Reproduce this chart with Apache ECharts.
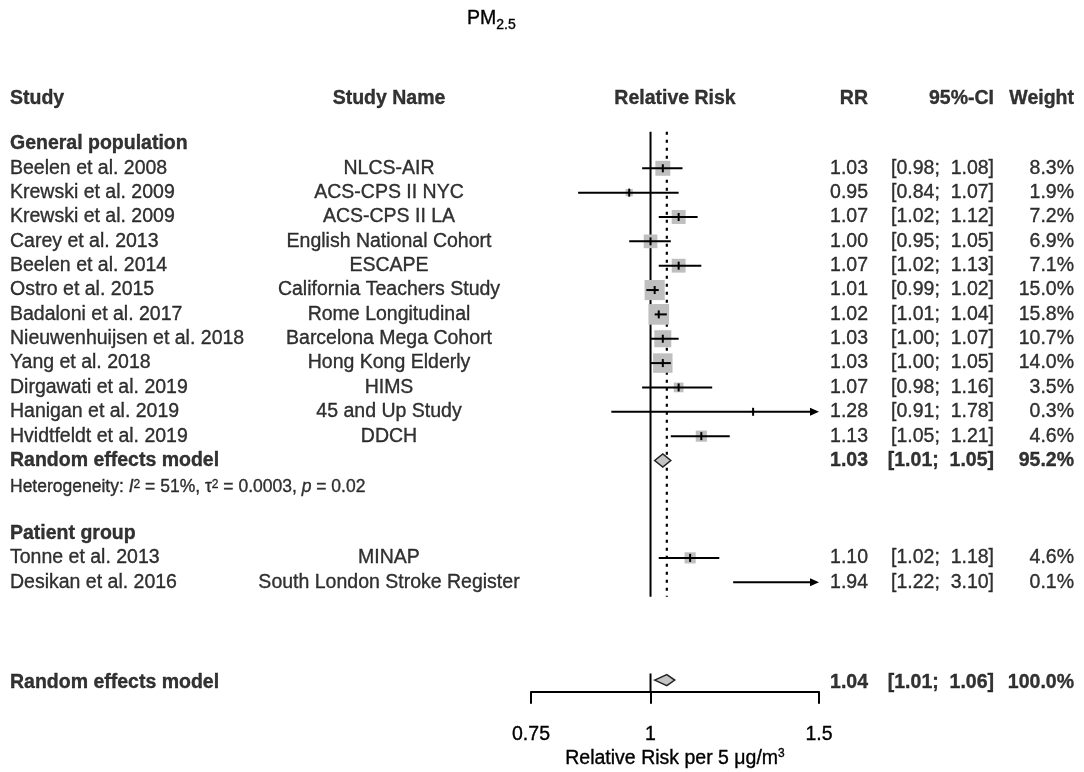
<!DOCTYPE html>
<html>
<head>
<meta charset="utf-8">
<script src="https://cdn.jsdelivr.net/npm/echarts@6/dist/echarts.min.js"></script>
<style>html,body{margin:0;padding:0;background:#fff}#c{width:1084px;height:772px}</style>
</head>
<body>
<div id="c"></div>
<script>
// ---------------- data ----------------
const studies = ['Beelen et al. 2008','Krewski et al. 2009','Krewski et al. 2009','Carey et al. 2013','Beelen et al. 2014','Ostro et al. 2015','Badaloni et al. 2017','Nieuwenhuijsen et al. 2018','Yang et al. 2018','Dirgawati et al. 2019','Hanigan et al. 2019','Hvidtfeldt et al. 2019','Tonne et al. 2013','Desikan et al. 2016'];
const studyNames = ['NLCS-AIR','ACS-CPS II NYC','ACS-CPS II LA','English National Cohort','ESCAPE','California Teachers Study','Rome Longitudinal','Barcelona Mega Cohort','Hong Kong Elderly','HIMS','45 and Up Study','DDCH','MINAP','South London Stroke Register'];
const studyGroup = [0,0,0,0,0,0,0,0,0,0,0,0,1,1];
const rr = [1.03,0.95,1.07,1.00,1.07,1.01,1.02,1.03,1.03,1.07,1.28,1.13,1.10,1.94];
const ciLow = [0.98,0.84,1.02,0.95,1.02,0.99,1.01,1.00,1.00,0.98,0.91,1.05,1.02,1.22];
const ciHigh = [1.08,1.07,1.12,1.05,1.13,1.02,1.04,1.07,1.05,1.16,1.78,1.21,1.18,3.10];
const weights = [8.3,1.9,7.2,6.9,7.1,15.0,15.8,10.7,14.0,3.5,0.3,4.6,4.6,0.1];
const groupNames = ['General population','Patient group'];
const subgroupPooled = {label:'Random effects model', rr:1.03, lo:1.01, hi:1.05, weight:95.2};
const heterogeneity = {i2:'51%', tau2:'0.0003', p:'0.02'};
const overallPooled = {label:'Random effects model', rr:1.04, lo:1.01, hi:1.06, weight:100.0};
const xTicks = [0.75, 1, 1.5];
const xMin = 0.75, xMax = 1.5;
const headers = {study:'Study', name:'Study Name', plot:'Relative Risk', rr:'RR', ci:'95%-CI', weight:'Weight'};
const titleText = 'PM{sub|2.5}';
const axisTitle = 'Relative Risk per 5 μg/m{sup|3}';

// ---------------- layout ----------------
const FONT = '"Liberation Sans", Arial, Helvetica, sans-serif';
const FS = 19.5;
const ROW_MIN = -4, ROW_MAX = 21.5;
const gridTop = 70.9, gridBottom = 80.2;
const COL = {study:10, name:389, plot:675, rr:868, ci:994, weight:1074};
const boxScale = 5.2;
const INK = {textBorderColor:'#000', textBorderWidth:0.35};

// row assignment
const headerRow = -2.88;
let row = -1;
const groupHeaderRows = [], studyRows = [];
let subgroupRow, hetRow;
groupNames.forEach((g, gi) => {
  groupHeaderRows.push(row); row++;
  studies.forEach((s, i) => { if (studyGroup[i] === gi) { studyRows[i] = row; row++; } });
  if (gi === 0) { subgroupRow = row; row++; hetRow = row + 0.1; row++; row++; }
});
const overallRow = 21.02;
const overallTextRow = 21.12;

const fmt2 = v => v.toFixed(2);
const ciText = (lo, hi) => '[' + fmt2(lo) + ';  ' + fmt2(hi) + ']';

// ---------------- text items ----------------
const texts = [];
function txt(x, r, text, align, bold, extra) {
  texts.push(Object.assign({value:[x, r], name:text, label:{align:align, fontWeight: bold ? 'bold' : 'normal'}}, extra || {}));
}
txt(COL.study, headerRow, headers.study, 'left', true);
txt(COL.name, headerRow, headers.name, 'center', true);
txt(COL.plot, headerRow, headers.plot, 'center', true);
txt(COL.rr, headerRow, headers.rr, 'right', true);
txt(COL.ci, headerRow, headers.ci, 'right', true);
txt(COL.weight, headerRow, headers.weight, 'right', true);
groupNames.forEach((g, gi) => txt(COL.study, groupHeaderRows[gi], g, 'left', true));
studies.forEach((s, i) => {
  const r = studyRows[i];
  txt(COL.study, r, s, 'left', false);
  txt(COL.name, r, studyNames[i], 'center', false);
  txt(COL.rr, r, fmt2(rr[i]), 'right', false);
  txt(COL.ci, r, ciText(ciLow[i], ciHigh[i]), 'right', false);
  txt(COL.weight, r, weights[i].toFixed(1) + '%', 'right', false);
});
[[subgroupPooled, subgroupRow], [overallPooled, overallTextRow]].forEach(([p, r]) => {
  txt(COL.study, r, p.label, 'left', true);
  txt(COL.rr, r, fmt2(p.rr), 'right', true);
  txt(COL.ci, r, ciText(p.lo, p.hi), 'right', true);
  txt(COL.weight, r, p.weight.toFixed(1) + '%', 'right', true);
});
txt(COL.study, hetRow,
  'Heterogeneity: {it|I}{sup|2} = ' + heterogeneity.i2 + ', τ{sup|2} = ' + heterogeneity.tau2 + ', {it|p} = ' + heterogeneity.p,
  'left', false, {label:{align:'left', fontSize:17.5}});

// ---------------- render functions ----------------
function renderStudy(params, api) {
  const est = api.value(0), lo = api.value(1), hi = api.value(2), w = api.value(3), r = api.value(4);
  const y = api.coord([1, r])[1];
  const xl = api.coord([Math.max(lo, xMin), r])[0];
  const xh = api.coord([Math.min(hi, xMax), r])[0];
  const children = [];
  const inRange = est >= xMin && est <= xMax;
  let xe;
  if (inRange) {
    xe = api.coord([est, r])[0];
    const s = boxScale * Math.sqrt(w);
    children.push({type:'rect', shape:{x:xe - s/2, y:y - s/2, width:s, height:s}, style:{fill:'#bfbfbf'}});
  }
  const ah = 9;
  children.push({type:'line', shape:{x1: lo < xMin ? xl + ah : xl, y1:y, x2: hi > xMax ? xh - ah + 1 : xh, y2:y}, style:{stroke:'#000', lineWidth:2}});
  if (hi > xMax) children.push({type:'polygon', shape:{points:[[xh, y], [xh - ah, y - 4], [xh - ah, y + 4]]}, style:{fill:'#000'}});
  if (lo < xMin) children.push({type:'polygon', shape:{points:[[xl, y], [xl + ah, y - 4], [xl + ah, y + 4]]}, style:{fill:'#000'}});
  if (inRange) children.push({type:'line', shape:{x1:xe, y1:y - 4, x2:xe, y2:y + 4}, style:{stroke:'#000', lineWidth:2}});
  return {type:'group', children};
}
function renderDiamond(params, api) {
  const est = api.value(0), lo = api.value(1), hi = api.value(2), r = api.value(3), h = api.value(4);
  const y = api.coord([1, r])[1];
  const xe = api.coord([est, r])[0], xl = api.coord([lo, r])[0], xh = api.coord([hi, r])[0];
  return {type:'polygon', shape:{points:[[xl, y], [xe, y - h], [xh, y], [xe, y + h]]},
    style:{fill:'#c4c4c4', stroke:'#222', lineWidth:1.5}};
}

const studyData = rr.map((v, i) => [v, ciLow[i], ciHigh[i], weights[i], studyRows[i]]);
const diamondData = [
  [subgroupPooled.rr, subgroupPooled.lo, subgroupPooled.hi, subgroupRow, 6.5],
  [overallPooled.rr, overallPooled.lo, overallPooled.hi, overallRow, 5.5]
];

const chart = echarts.init(document.getElementById('c'), null, {renderer:'canvas'});
chart.setOption({
  animation: false,
  backgroundColor: '#fff',
  textStyle: {fontFamily: FONT, color:'#000'},
  title: {
    text: titleText, left: 462, top: 1,
    textStyle: Object.assign({fontFamily: FONT, fontSize: FS, fontWeight:'normal', color:'#000', lineHeight: 26,
      rich: {sub: Object.assign({fontFamily: FONT, fontSize: 14, color:'#000', verticalAlign:'bottom', lineHeight: 14}, INK)}}, INK)
  },
  grid: [
    {left: 531, right: 1084 - 819, top: gridTop, bottom: gridBottom, containLabel: false, outerBoundsMode: 'none'},
    {left: 0, right: 0, top: gridTop, bottom: gridBottom, containLabel: false, outerBoundsMode: 'none'}
  ],
  xAxis: [
    {gridIndex: 0, type:'log', logBase: 10, min: xMin, max: xMax, position:'bottom',
      axisLine: {show:true, onZero:false, lineStyle:{color:'#000', width:2}},
      axisTick: {show:true, customValues: xTicks, length: 12, lineStyle:{color:'#000', width:2}},
      axisLabel: Object.assign({show:true, customValues: xTicks, margin: 33, fontSize: FS, color:'#000', fontFamily: FONT,
        formatter: v => String(v)}, INK),
      splitLine: {show:false}, minorTick:{show:false},
      name: axisTitle, nameLocation:'middle', nameGap: 55.5, nameMoveOverlap: false,
      nameTextStyle: Object.assign({fontSize: FS, color:'#000', fontFamily: FONT, lineHeight: 22,
        rich: {sup: Object.assign({fontSize: 12, color:'#000', fontFamily: FONT, verticalAlign:'top', lineHeight: 12}, INK)}}, INK)
    },
    {gridIndex: 1, type:'value', min: 0, max: 1084, show: false}
  ],
  yAxis: [
    {gridIndex: 0, type:'value', min: ROW_MIN, max: ROW_MAX, inverse: true, show: false},
    {gridIndex: 1, type:'value', min: ROW_MIN, max: ROW_MAX, inverse: true, show: false}
  ],
  series: [
    {type:'line', xAxisIndex:0, yAxisIndex:0, silent:true, symbol:'none', z:1,
      data: [[1, -1.5], [1, 17.6]], lineStyle:{color:'#000', width:2}},
    {type:'line', xAxisIndex:0, yAxisIndex:0, silent:true, symbol:'none', z:1,
      data: [[1, 20.75], [1, ROW_MAX]], lineStyle:{color:'#000', width:2}},
    {type:'line', xAxisIndex:0, yAxisIndex:0, silent:true, symbol:'none', z:1,
      data: [[overallPooled.rr, -1.5], [overallPooled.rr, 17.6]], lineStyle:{color:'#000', width:2.2, type:[3, 5]}},
    {type:'custom', xAxisIndex:0, yAxisIndex:0, silent:true, z:3, clip:false,
      encode:{x:[0,1,2], y:4}, renderItem: renderStudy, data: studyData},
    {type:'custom', xAxisIndex:0, yAxisIndex:0, silent:true, z:3, clip:false,
      encode:{x:[0,1,2], y:3}, renderItem: renderDiamond, data: diamondData},
    {type:'scatter', xAxisIndex:1, yAxisIndex:1, silent:true, z:5, clip:false,
      symbolSize: 1, itemStyle:{color:'rgba(0,0,0,0)'},
      label: Object.assign({show:true, position:'inside', color:'#000', fontSize: FS, fontFamily: FONT,
        formatter: p => p.name,
        rich: {
          it: Object.assign({fontStyle:'italic', fontSize:17.5, color:'#000', fontFamily: FONT}, INK),
          sup: Object.assign({fontSize:12, color:'#000', fontFamily: FONT, verticalAlign:'top', lineHeight: 12}, INK)
        }}, INK),
      data: texts}
  ]
});
</script>
</body>
</html>
